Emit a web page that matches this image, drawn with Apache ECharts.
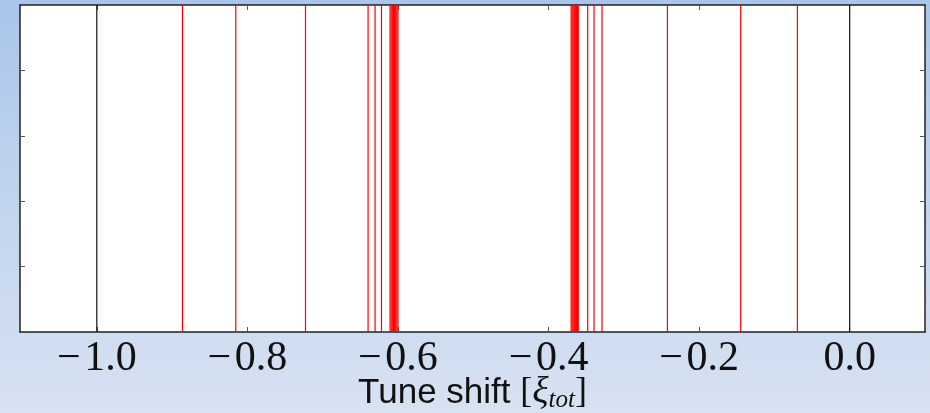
<!DOCTYPE html>
<html>
<head>
<meta charset="utf-8">
<script src="https://cdn.jsdelivr.net/npm/echarts@6/dist/echarts.min.js"></script>
<style>
html,body{margin:0;padding:0;}
#c{width:930px;height:413px;}
</style>
</head>
<body>
<div id="c"></div>
<script>
// Tune shift values (red lines)
const redLines = [
  -0.8862, -0.8154, -0.7228, -0.6397, -0.6304, -0.6219,
  -0.6105, -0.6090, -0.6075, -0.6060, -0.6045, -0.6030, -0.6015, -0.6000,
  -0.3700, -0.3686, -0.3672, -0.3658, -0.3644, -0.3630, -0.3616, -0.3605,
  -0.3480, -0.3396, -0.3290, -0.2421, -0.1448, -0.0695
];
// Reference lines (black)
const blackLines = [-1.0, 0.0];
// Tick positions
const xTicks = [-1.0, -0.8, -0.6, -0.4, -0.2, 0.0];
const yTicks = [0.2, 0.4, 0.6, 0.8];

const chart = echarts.init(document.getElementById('c'));

function vline(color, width) {
  return function (params, api) {
    const v = api.value(0);
    const p0 = api.coord([v, 0]);
    const p1 = api.coord([v, 1]);
    return {
      type: 'line',
      shape: {x1: p0[0], y1: p0[1], x2: p1[0], y2: p1[1]},
      style: {stroke: color, lineWidth: width}
    };
  };
}

function axisLine() { return {show: true, onZero: false, lineStyle: {color: '#222', width: 1.5}}; }
function ticks(vals) { return {show: true, inside: true, length: 5, customValues: vals, lineStyle: {color: '#555', width: 1}}; }

const X_MIN = -1.102, X_MAX = 0.1;

chart.setOption({
  backgroundColor: new echarts.graphic.LinearGradient(0, 0, 0, 1, [
    {offset: 0, color: '#a9c5eb'},
    {offset: 0.5, color: '#c2d5ee'},
    {offset: 1, color: '#d7e2f2'}
  ]),
  animation: false,
  grid: {left: 20, right: 5, top: 5, bottom: 81, containLabel: false, outerBoundsMode: 'none',
         show: true, backgroundColor: '#ffffff', borderWidth: 0},
  xAxis: [
    {
      type: 'value', min: X_MIN, max: X_MAX, position: 'bottom',
      axisLine: axisLine(),
      axisTick: ticks(xTicks),
      splitLine: {show: false},
      axisLabel: {
        customValues: xTicks,
        fontFamily: 'Liberation Serif', fontSize: 42, color: '#111', margin: 6,
        formatter: v => (v < 0 ? '\u2212\u200A' : '') + Math.abs(v).toFixed(1)
      },
      name: '{a|Tune shift }{b|[}{c|ξ}{d|tot}{b|]}',
      nameLocation: 'middle', nameGap: 41, nameMoveOverlap: false,
      nameTextStyle: {
        verticalAlign: 'top',
        rich: {
          a: {fontFamily: 'Liberation Sans', fontSize: 35, color: '#111', lineHeight: 40},
          b: {fontFamily: 'Liberation Serif', fontSize: 36, color: '#111', lineHeight: 40},
          c: {fontFamily: 'Liberation Serif', fontStyle: 'italic', fontSize: 38, color: '#111', lineHeight: 40},
          d: {fontFamily: 'Liberation Serif', fontStyle: 'italic', fontSize: 25, color: '#111', lineHeight: 22, verticalAlign: 'bottom'}
        }
      }
    },
    {
      type: 'value', min: X_MIN, max: X_MAX, position: 'top',
      axisLine: axisLine(),
      axisTick: ticks(xTicks),
      axisLabel: {show: false},
      splitLine: {show: false}
    }
  ],
  yAxis: [
    {
      type: 'value', min: 0, max: 1, position: 'left',
      axisLine: axisLine(),
      axisTick: ticks(yTicks),
      axisLabel: {show: false},
      splitLine: {show: false}
    },
    {
      type: 'value', min: 0, max: 1, position: 'right',
      axisLine: axisLine(),
      axisTick: ticks(yTicks),
      axisLabel: {show: false},
      splitLine: {show: false}
    }
  ],
  series: [
    {
      type: 'custom', xAxisIndex: 0, yAxisIndex: 0, silent: true,
      data: redLines.map(v => [v]),
      encode: {x: 0},
      renderItem: vline('#ff0000', 1.2),
      z: 2
    },
    {
      type: 'custom', xAxisIndex: 0, yAxisIndex: 0, silent: true,
      data: blackLines.map(v => [v]),
      encode: {x: 0},
      renderItem: vline('#111111', 1.2),
      z: 3
    }
  ]
});
</script>
</body>
</html>
